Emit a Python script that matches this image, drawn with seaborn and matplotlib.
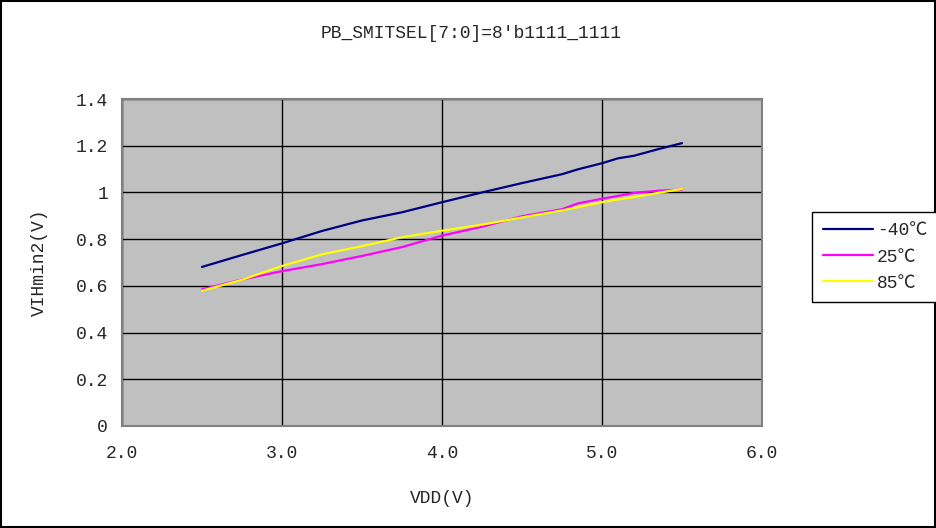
import matplotlib
matplotlib.use("Agg")
import matplotlib.pyplot as plt
import pandas as pd
import seaborn as sns
from matplotlib.patches import Rectangle

# values
vdd = [2.5, 2.75, 3.0, 3.25, 3.5, 3.75, 4.0, 4.25, 4.5, 4.75, 4.85, 5.0, 5.1, 5.2, 5.35, 5.5]
vih_m40 = [0.681, 0.732, 0.782, 0.835, 0.880, 0.915, 0.958, 1.000, 1.040, 1.078, 1.099,
           1.125, 1.146, 1.157, 1.185, 1.211]
vih_25 = [0.585, 0.627, 0.663, 0.693, 0.728, 0.766, 0.815, 0.853, 0.898, 0.928, 0.953,
          0.973, 0.985, 0.998, 1.007, 1.012]
vih_85 = [0.579, 0.626, 0.685, 0.735, 0.770, 0.808, 0.836, 0.862, 0.893, 0.923, 0.937,
          0.958, 0.970, 0.980, 0.998, 1.015]
temps = ["-40℃", "25℃", "85℃"]
colors = ["#000080", "#FF00FF", "#FFFF00"]
x_ticks = [2.0, 3.0, 4.0, 5.0, 6.0]
y_ticks = [0, 0.2, 0.4, 0.6, 0.8, 1.0, 1.2, 1.4]
y_labels = ["0", "0.2", "0.4", "0.6", "0.8", "1", "1.2", "1.4"]

sns.set_style("white")
plt.rcParams["font.family"] = ["Liberation Mono", "Noto Sans CJK SC", "DejaVu Sans"]

df = pd.concat([
    pd.DataFrame({"VDD": vdd, "VIH": vals, "temp": t})
    for t, vals in zip(temps, [vih_m40, vih_25, vih_85])
])

fig = plt.figure(figsize=(9.36, 5.28), dpi=100)
ax = fig.add_axes([122 / 936, 1 - 426 / 528, 640 / 936, 327 / 528])
ax.set_facecolor("#C0C0C0")

sns.lineplot(data=df, x="VDD", y="VIH", hue="temp", hue_order=temps,
             palette=dict(zip(temps, colors)), linewidth=1.6, ax=ax, legend=False)

ax.set_xlim(2.0, 6.0)
ax.set_ylim(0, 1.4)
ax.set_xticks(x_ticks)
ax.set_xticklabels([f"{v:.1f}" for v in x_ticks])
ax.set_yticks(y_ticks)
ax.set_yticklabels(y_labels)
ax.tick_params(labelsize=13, length=4, color="#404040", pad=6)
ax.tick_params(axis="x", pad=10)
ax.grid(True, color="black", linewidth=1)
ax.set_axisbelow(True)
for s in ax.spines.values():
    s.set_color("#808080")
    s.set_linewidth(1.5)

ax.set_xlabel("VDD(V)", fontsize=13, labelpad=20)
ax.set_ylabel("VIHmin2(V)", fontsize=13, labelpad=20)
fig.text(471 / 936, 1 - 33 / 528, "PB_SMITSEL[7:0]=8'b1111_1111",
         ha="center", va="center", fontsize=13)

handles = [plt.Line2D([], [], color=c, linewidth=1.6) for c in colors]
leg = fig.legend(handles, temps, loc="center left",
                 bbox_to_anchor=(812 / 936, 1 - 257 / 528),
                 bbox_transform=fig.transFigure, fontsize=13, frameon=True,
                 fancybox=False, edgecolor="black", framealpha=1,
                 handlelength=2.8, handletextpad=0.2, labelspacing=0.5,
                 borderpad=0.6, borderaxespad=0)
leg.get_frame().set_linewidth(1)

fig.patches.append(Rectangle((0.001, 0.002), 0.998, 0.996, transform=fig.transFigure,
                             fill=False, edgecolor="black", linewidth=1.5))

fig.savefig("out.png", dpi=100)
